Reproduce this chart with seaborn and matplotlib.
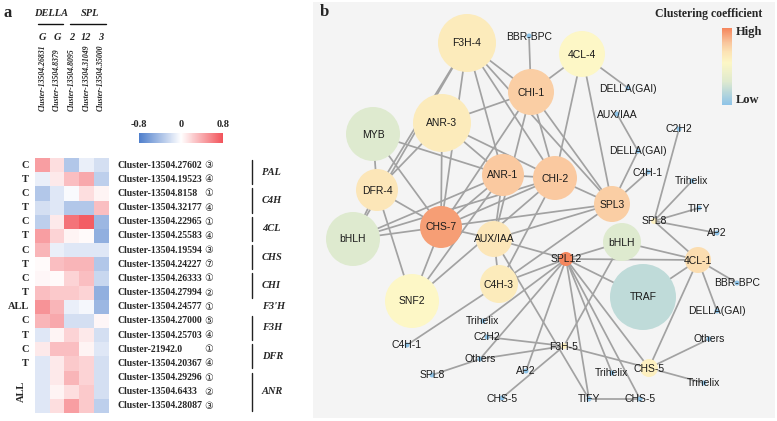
import numpy as np
import pandas as pd
import matplotlib
matplotlib.use("Agg")
import matplotlib.pyplot as plt
import matplotlib.transforms as mtransforms
from matplotlib.colors import LinearSegmentedColormap
import seaborn as sns

# ---------------- data: panel a ----------------
col_labels = ["Cluster-13504.26831", "Cluster-13504.8379", "Cluster-13504.8095",
              "Cluster-13504.31049", "Cluster-13504.35000"]
col_short = ["G", "G", "2", "12", "3"]
row_labels = ["Cluster-13504.27602", "Cluster-13504.19523", "Cluster-13504.8158",
              "Cluster-13504.32177", "Cluster-13504.22965", "Cluster-13504.25583",
              "Cluster-13504.19594", "Cluster-13504.24227", "Cluster-13504.26333",
              "Cluster-13504.27994", "Cluster-13504.24577", "Cluster-13504.27000",
              "Cluster-13504.25703", "Cluster-21942.0", "Cluster-13504.20367",
              "Cluster-13504.29296", "Cluster-13504.6433", "Cluster-13504.28087"]
row_tissue = ["C", "T", "C", "T", "C", "T", "C", "T", "C", "T", "ALL", "C", "T", "C", "T", "", "", ""]
row_circ = ["③", "④", "①", "④", "①", "④", "③", "⑦", "①", "②", "①", "⑤", "④", "①", "④", "①", "②", "③"]
heat_values = [
    [0.45, 0.15, -0.35, -0.10, -0.20],
    [-0.10, 0.10, 0.30, 0.40, -0.30],
    [-0.35, -0.15, -0.03, 0.15, 0.05],
    [-0.20, -0.15, -0.35, -0.35, 0.30],
    [-0.30, 0.10, 0.65, 0.75, -0.45],
    [0.45, 0.20, 0.05, 0.02, -0.50],
    [0.35, -0.10, -0.15, -0.15, -0.15],
    [0.02, 0.30, 0.35, 0.35, -0.35],
    [0.04, 0.02, 0.20, 0.30, -0.25],
    [0.30, 0.25, 0.25, 0.20, -0.50],
    [0.50, 0.35, -0.10, -0.05, -0.45],
    [0.35, 0.40, -0.20, -0.20, 0.04],
    [-0.15, 0.05, 0.20, 0.10, -0.20],
    [0.10, 0.30, 0.30, 0.05, -0.15],
    [-0.15, 0.10, 0.25, 0.20, -0.20],
    [-0.15, 0.10, 0.35, 0.20, -0.20],
    [-0.15, 0.05, 0.15, 0.25, -0.20],
    [-0.15, 0.15, 0.45, 0.25, -0.30],
]
group_names = ["PAL", "C4H", "4CL", "CHS", "CHI", "F3'H", "F3H", "DFR", "ANR"]
group_sizes = [2, 2, 2, 2, 2, 1, 2, 2, 3]

# ---------------- data: panel b ----------------
node_ids = ["F3H4", "BBR1", "CL44", "CHI1", "ANR3", "MYB", "DEL1", "AUX1", "C2H1", "DEL2",
            "C4H1", "TRI1", "TIF1", "SPL8a", "AP21", "ANR1", "CHI2", "SPL3", "DFR4", "BHL1",
            "CHS7", "AUXb", "BHL2", "SPL12", "CL41", "BBR2", "C4H3", "SNF2", "TRAF", "DEL3",
            "TRI2", "C4H2", "C2H2b", "F3H5", "OTH1", "OTH2", "SPL8b", "AP22", "TRI3", "CHS5",
            "TRI4", "CHS5b", "TIF2", "CHS5c"]
node_labels = ["F3H-4", "BBR-BPC", "4CL-4", "CHI-1", "ANR-3", "MYB", "DELLA(GAI)", "AUX/IAA", "C2H2", "DELLA(GAI)",
               "C4H-1", "Trihelix", "TIFY", "SPL8", "AP2", "ANR-1", "CHI-2", "SPL3", "DFR-4", "bHLH",
               "CHS-7", "AUX/IAA", "bHLH", "SPL12", "4CL-1", "BBR-BPC", "C4H-3", "SNF2", "TRAF", "DELLA(GAI)",
               "Trihelix", "C4H-1", "C2H2", "F3H-5", "Others", "Others", "SPL8", "AP2", "Trihelix", "CHS-5",
               "Trihelix", "CHS-5", "TIFY", "CHS-5"]
node_x = [467, 529, 582, 531, 442, 373, 628, 617, 679, 638,
          648, 692, 699, 654, 717, 503, 555, 612, 377, 353,
          441, 494, 622, 566, 698, 737, 499, 412, 643, 717,
          483, 407, 487, 564, 709, 480, 432, 526, 612, 649,
          704, 502, 589, 640]
node_y = [43, 36, 54, 92, 123, 134, 88, 114, 129, 151,
          172, 181, 208, 221, 233, 175, 178, 204, 190, 239,
          227, 239, 242, 259, 260, 283, 284, 301, 297, 311,
          321, 345, 337, 346, 339, 359, 375, 371, 373, 368,
          383, 398, 399, 399]
node_radius = [29, 2.5, 23, 23, 29, 27, 2.5, 2.5, 2.5, 2.5,
               2.5, 2.5, 2.5, 3, 2.5, 21, 22, 18, 21, 27,
               21, 18, 19, 7, 13, 2.5, 19, 27, 33, 2.5,
               2.5, 2.5, 2.5, 3, 2.5, 2.5, 2.5, 2.5, 2.5, 9,
               2.5, 2.5, 2.5, 2.5]
node_cc = [0.64, 0.0, 0.55, 0.78, 0.64, 0.30, 0.0, 0.0, 0.0, 0.0,
           0.0, 0.0, 0.0, 0.60, 0.0, 0.80, 0.80, 0.78, 0.67, 0.30,
           0.93, 0.67, 0.30, 1.00, 0.72, 0.0, 0.64, 0.55, 0.18, 0.0,
           0.0, 0.0, 0.0, 0.60, 0.0, 0.0, 0.0, 0.0, 0.0, 0.60,
           0.0, 0.0, 0.0, 0.0]
edge_src = ["F3H4", "F3H4", "F3H4", "F3H4", "F3H4", "F3H4", "F3H4", "BBR1",
            "CL44", "CL44", "CL44", "CL44",
            "CHI1", "CHI1", "CHI1", "CHI1", "CHI1",
            "ANR3", "ANR3", "ANR3", "ANR3",
            "MYB", "MYB", "MYB",
            "DFR4", "DFR4", "DFR4",
            "BHL1", "BHL1", "BHL1",
            "CHS7", "CHS7", "CHS7", "CHS7", "CHS7",
            "ANR1", "ANR1", "ANR1",
            "CHI2", "CHI2", "CHI2",
            "SPL3", "SPL3", "SPL3", "SPL3",
            "AUX1",
            "AUXb", "AUXb", "AUXb",
            "C4H3", "C4H3",
            "SPL12", "SPL12", "SPL12", "SPL12", "SPL12", "SPL12", "SPL12", "SPL12", "SPL12", "SPL12",
            "BHL2", "BHL2",
            "CL41", "CL41", "CL41", "CL41", "CL41",
            "SPL8a", "SPL8a", "SPL8a", "SPL8a",
            "F3H5", "F3H5", "F3H5", "F3H5",
            "OTH2", "TIF2", "CHS5", "CHS5"]
edge_dst = ["CHI1", "DFR4", "BHL1", "CHS7", "ANR1", "CHI2", "SPL3", "CHI1",
            "CHI1", "CHI2", "SPL3", "DEL1",
            "ANR3", "CHS7", "AUXb", "CHI2", "SPL3",
            "DFR4", "CHS7", "CHI2", "ANR1",
            "DFR4", "CHS7", "ANR1",
            "CHS7", "BHL1", "SNF2",
            "CHS7", "ANR1", "CHI2",
            "ANR1", "CHI2", "SPL3", "AUXb", "SNF2",
            "CHI2", "AUXb", "SNF2",
            "SPL3", "C4H3", "SNF2",
            "AUXb", "C4H3", "DEL2", "C4H1",
            "DEL2",
            "C4H3", "SPL12", "TIF2",
            "SPL12", "C4H2",
            "BHL2", "CL41", "TRAF", "CHS5", "TRI2", "OTH2", "AP22", "TIF2", "CHS5c", "TRI3",
            "CL41", "F3H5",
            "SPL8a", "TRAF", "BBR2", "DEL3", "CHS5",
            "C2H1", "TRI1", "TIF1", "AP21",
            "C2H2b", "OTH2", "CHS5", "CHS5b",
            "SPL8b", "CHS5c", "OTH1", "TRI4"]

# ---------------- figure ----------------
sns.set_theme(style="white")
plt.rcParams["font.family"] = ["Liberation Serif", "DejaVu Sans"]
W, H = 777, 421
fig = plt.figure(figsize=(W / 100, H / 100), dpi=100)


def fx(px):
    return px / W


def fy(py):
    return 1 - py / H


SERIF = ["Liberation Serif", "DejaVu Serif"]
SANS = ["Liberation Sans", "DejaVu Sans"]

# ---- panel a heatmap ----
heat_cmap = LinearSegmentedColormap.from_list("bwr2", ["#4f7fcc", "#ffffff", "#f2545b"])
df = pd.DataFrame(heat_values, index=row_labels, columns=col_labels)
hx0, hx1, hy0, hy1 = 35, 108.5, 158, 413
ax_h = fig.add_axes([fx(hx0), fy(hy1), fx(hx1 - hx0), (hy1 - hy0) / H])
cax = fig.add_axes([fx(139), fy(143), fx(84), 10 / H])
sns.heatmap(df, ax=ax_h, cmap=heat_cmap, vmin=-0.8, vmax=0.8, cbar_ax=cax,
            cbar_kws={"orientation": "horizontal", "ticks": [-0.8, 0, 0.8]},
            xticklabels=False, yticklabels=False)
ax_h.set_xlabel("")
ax_h.set_ylabel("")
cax.xaxis.set_ticks_position("top")
cax.set_xticklabels(["-0.8", "0", "0.8"], fontfamily=SERIF, fontweight="bold", fontsize=7.5)
cax.tick_params(axis="x", length=0, pad=3)
cbar = ax_h.collections[0].colorbar
if cbar is not None:
    cbar.outline.set_visible(False)
for s in cax.spines.values():
    s.set_visible(False)

tr_row = mtransforms.blended_transform_factory(fig.transFigure, ax_h.transData)
tr_col = mtransforms.blended_transform_factory(ax_h.transData, fig.transFigure)

for i, (lab, tis, circ) in enumerate(zip(row_labels, row_tissue, row_circ)):
    yc = i + 0.5
    ax_h.text(fx(117), yc, lab, transform=tr_row, ha="left", va="center",
              fontsize=7, fontweight="bold", fontfamily=SERIF, clip_on=False)
    ax_h.text(fx(209), yc, circ, transform=tr_row, ha="center", va="center",
              fontsize=7, fontfamily=["DejaVu Sans"], clip_on=False)
    if tis:
        ax_h.text(fx(29), yc, tis, transform=tr_row, ha="right", va="center",
                  fontsize=7.5, fontweight="bold", fontfamily=SERIF, clip_on=False)
ax_h.text(fx(21), 16.5, "ALL", transform=tr_row, ha="center", va="center", rotation=90,
          fontsize=7.5, fontweight="bold", fontfamily=SERIF, clip_on=False)

start = 0
for name, n in zip(group_names, group_sizes):
    if n > 1:
        ax_h.plot([fx(252), fx(252)], [start + 0.15, start + n - 0.15], transform=tr_row,
                  color="#222222", lw=1.0, clip_on=False)
    ax_h.text(fx(262), start + n / 2, name, transform=tr_row, ha="left", va="center",
              fontsize=7.5, fontweight="bold", fontstyle="italic", fontfamily=SERIF, clip_on=False)
    start += n

for j, (lab, sh) in enumerate(zip(col_labels, col_short)):
    ax_h.text(j + 0.5, fy(111), lab, transform=tr_col, rotation=90, ha="center", va="bottom",
              fontsize=5.6, fontstyle="italic", fontweight="bold", fontfamily=SERIF, clip_on=False)
    ax_h.text(j + 0.5, fy(37), sh, transform=tr_col, ha="center", va="center",
              fontsize=7.5, fontstyle="italic", fontweight="bold", fontfamily=SERIF, clip_on=False)
fig.text(fx(51), fy(14), "DELLA", ha="center", va="center", fontsize=7.5,
         fontstyle="italic", fontweight="bold", fontfamily=SERIF)
fig.text(fx(90), fy(14), "SPL", ha="center", va="center", fontsize=7.5,
         fontstyle="italic", fontweight="bold", fontfamily=SERIF)
fig.add_artist(plt.Line2D([fx(38), fx(63)], [fy(24), fy(24)], color="#111111", lw=1.0))
fig.add_artist(plt.Line2D([fx(70), fx(106)], [fy(24), fy(24)], color="#111111", lw=1.0))
fig.text(fx(4), fy(13), "a", ha="left", va="center", fontsize=12, fontweight="bold", fontfamily=SERIF)

# ---- panel b network ----
net_cmap = LinearSegmentedColormap.from_list(
    "cc", [(0.0, "#8fc4e8"), (0.3, "#dfeacf"), (0.55, "#fdf7c6"), (0.7, "#fce2b4"),
           (0.82, "#f9c49c"), (1.0, "#f5875e")])
ax_b = fig.add_axes([fx(313), fy(418), fx(775 - 313), 416 / H])
ax_b.set_facecolor("#f4f4f4")
ax_b.set_xlim(313, 775)
ax_b.set_ylim(418, 2)
for s in ax_b.spines.values():
    s.set_visible(False)
ax_b.set_xticks([])
ax_b.set_yticks([])

nodes = pd.DataFrame({"id": node_ids, "label": node_labels, "x": node_x, "y": node_y,
                      "r": node_radius, "cc": node_cc}).set_index("id")
for a, b in zip(edge_src, edge_dst):
    ax_b.plot([nodes.loc[a, "x"], nodes.loc[b, "x"]], [nodes.loc[a, "y"], nodes.loc[b, "y"]],
              color="#a2a2a2", lw=1.25, zorder=1, solid_capstyle="round")
sizes = (2 * nodes["r"].to_numpy() * 0.72) ** 2
ax_b.scatter(nodes["x"], nodes["y"], s=sizes, c=[net_cmap(v) for v in nodes["cc"]],
             edgecolors="none", zorder=2)
for _, row in nodes.iterrows():
    ax_b.text(row["x"], row["y"] + 0.5, row["label"], ha="center", va="center", fontsize=7.5,
              fontfamily=SANS, color="#1a1a1a", zorder=3)

fig.text(fx(709), fy(14), "Clustering coefficient", ha="center", va="center", fontsize=8.5,
         fontweight="bold", fontfamily=SERIF)
lax = fig.add_axes([fx(722), fy(105), fx(10), 77 / H])
lax.imshow(np.linspace(1, 0, 100).reshape(-1, 1), aspect="auto", cmap=net_cmap,
           vmin=0, vmax=1)
lax.set_axis_off()
fig.text(fx(736), fy(32), "High", ha="left", va="center", fontsize=9, fontweight="bold", fontfamily=SERIF)
fig.text(fx(736), fy(100), "Low", ha="left", va="center", fontsize=9, fontweight="bold", fontfamily=SERIF)
fig.text(fx(320), fy(12), "b", ha="left", va="center", fontsize=12, fontweight="bold", fontfamily=SERIF)

fig.savefig("out.png", dpi=100)
